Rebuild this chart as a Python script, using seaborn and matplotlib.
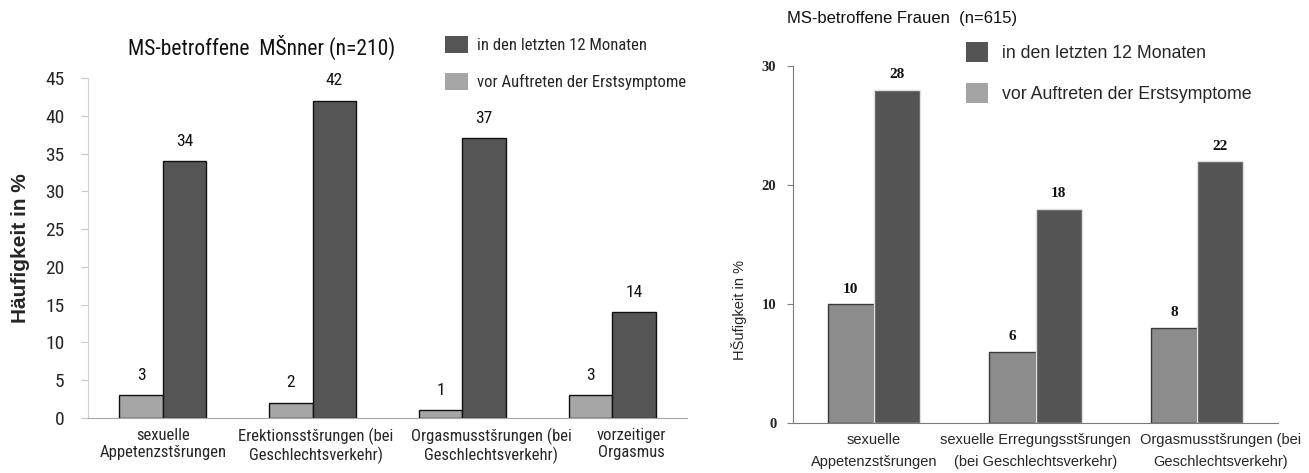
import matplotlib
matplotlib.use("Agg")
import matplotlib.pyplot as plt
import matplotlib.patches as mpatches
import matplotlib.transforms as mtransforms
from matplotlib import font_manager as fm
import seaborn as sns
import pandas as pd
import numpy as np

# ---------------- data ----------------
men_categories = ["sexuelle\nAppetenzstšrungen",
                  "Erektionsstšrungen (bei\nGeschlechtsverkehr)",
                  "Orgasmusstšrungen (bei\nGeschlechtsverkehr)",
                  "vorzeitiger\nOrgasmus"]
men_before = [3, 2, 1, 3]
men_last12 = [34, 42, 37, 14]

women_categories = ["sexuelle\nAppetenzstšrungen",
                    "sexuelle Erregungsstšrungen\n(bei Geschlechtsverkehr)",
                    "Orgasmusstšrungen (bei\nGeschlechtsverkehr)"]
women_before = [10, 6, 8]
women_last12 = [28, 18, 22]

series_last12 = "in den letzten 12 Monaten"
series_before = "vor Auftreten der Erstsymptome"

men_yticks = [0, 5, 10, 15, 20, 25, 30, 35, 40, 45]
women_yticks = [0, 10, 20, 30]

men_title = "MS-betroffene  MŠnner (n=210)"
women_title = "MS-betroffene Frauen  (n=615)"
men_ylabel = "Häufigkeit in %"
women_ylabel = "HŠufigkeit in %"

# ---------------- styling ----------------
sns.set_style("white")
SANS = ["Liberation Sans", "DejaVu Sans"]
SERIF = ["Liberation Serif", "DejaVu Serif"]
plt.rcParams["font.family"] = SANS

# pick a condensed sans face if one is installed
_fonts = fm.fontManager.ttflist
_names = {f.name for f in _fonts}
NARROW_PROPS = None
for cand in ["Liberation Sans Narrow", "Roboto Condensed", "Open Sans Condensed",
             "Noto Sans Condensed", "DejaVu Sans Condensed"]:
    if cand in _names:
        NARROW_PROPS = dict(family=[cand, "DejaVu Sans"], stretch="normal")
        break
if NARROW_PROPS is None:
    for nm in ["Roboto", "Noto Sans", "DejaVu Sans", "Open Sans"]:
        if any(f.name == nm and str(f.stretch) in ("condensed", "semi-condensed",
                                                     "extra-condensed")
               for f in _fonts):
            NARROW_PROPS = dict(family=[nm], stretch="condensed")
            break
NARROW_SCALE = 1.0
if NARROW_PROPS is None:
    NARROW_PROPS = dict(family=SANS, stretch="normal")
    NARROW_SCALE = 0.82

W, H = 1309, 473
fig = plt.figure(figsize=(W / 100, H / 100), dpi=100)

def frame(x0, x1, ytop, ybot):
    return [x0 / W, 1 - ybot / H, (x1 - x0) / W, (ybot - ytop) / H]

ax1 = fig.add_axes(frame(88, 687, 78, 418))
ax2 = fig.add_axes(frame(793, 1278, 66, 423))

def long_df(cats, before, last12):
    return pd.DataFrame({
        "cat": list(cats) * 2,
        "series": [series_before] * len(cats) + [series_last12] * len(cats),
        "value": list(before) + list(last12),
    })

def shift_labels(ax, offsets_px):
    for lbl, dx in zip(ax.get_xticklabels(), offsets_px):
        if dx:
            lbl.set_transform(lbl.get_transform() +
                              mtransforms.ScaledTranslation(dx / 100, 0,
                                                            fig.dpi_scale_trans))

# ---------- left: men ----------
men_light, men_dark = "#a6a6a6", "#555555"
df_m = long_df(men_categories, men_before, men_last12)
sns.barplot(data=df_m, x="cat", y="value", hue="series",
            hue_order=[series_before, series_last12],
            palette=[men_light, men_dark], width=0.58, legend=False,
            ax=ax1, saturation=1)
for c in ax1.containers:
    for p in c:
        p.set_edgecolor("#111111")
        p.set_linewidth(1.0)
    ax1.bar_label(c, fmt="%d", padding=9, fontsize=12.5 * NARROW_SCALE ** 0.5,
                  color="#111111", **NARROW_PROPS)

ax1.set_xlim(-0.5, len(men_categories) - 0.5)
ax1.set_ylim(0, 45)
ax1.set_yticks(men_yticks)
ax1.set_yticklabels([str(t) for t in men_yticks], fontsize=14 * NARROW_SCALE ** 0.5,
                    **NARROW_PROPS)
ax1.set_xticks(range(len(men_categories)))
ax1.set_xticklabels(men_categories, fontsize=12 * NARROW_SCALE,
                    linespacing=1.15, **NARROW_PROPS)
ax1.set_xticks(np.arange(-0.5, len(men_categories)), minor=True)
ax1.tick_params(axis="x", which="major", length=0, pad=7)
ax1.tick_params(axis="x", which="minor", length=4, color="#c0c0c0",
                direction="in")
ax1.tick_params(axis="y", length=5, color="#c8c8c8", pad=12, left=True)
ax1.set_xlabel("")
ax1.set_ylabel(men_ylabel, fontsize=15, fontweight="bold", family=SANS)
ax1.yaxis.set_label_coords(-0.097, 0.5)
for s in ["top", "right"]:
    ax1.spines[s].set_visible(False)
ax1.spines["left"].set_color("#d0d0d0")
ax1.spines["bottom"].set_color("#a8a8a8")
shift_labels(ax1, [0, 3, 29, 19])

fig.text(262 / W, 1 - 47 / H, men_title, ha="center", va="center",
         fontsize=15.5 * NARROW_SCALE ** 0.5, color="#111111", **NARROW_PROPS)
h1 = [mpatches.Patch(facecolor=men_dark, edgecolor="none"),
      mpatches.Patch(facecolor=men_light, edgecolor="none")]
leg_font = fm.FontProperties(family=NARROW_PROPS["family"],
                             stretch=NARROW_PROPS["stretch"],
                             size=12 * NARROW_SCALE)
_em = 12 * NARROW_SCALE * 1.389
fig.legend(h1, [series_last12, series_before], loc="upper left",
           bbox_to_anchor=(445 / W, 1 - 36 / H), frameon=False,
           prop=leg_font,
           handlelength=23 / _em, handleheight=20 / _em,
           labelspacing=20 / _em, handletextpad=9 / _em,
           borderpad=0, borderaxespad=0)

# ---------- right: women ----------
wom_light, wom_dark = "#8c8c8c", "#545454"
df_w = long_df(women_categories, women_before, women_last12)
sns.barplot(data=df_w, x="cat", y="value", hue="series",
            hue_order=[series_before, series_last12],
            palette=[wom_light, wom_dark], width=0.57, legend=False,
            ax=ax2, saturation=1)
edge_cols = ["#3a3a3a", "#e0e0e0"]
for c, ec in zip(ax2.containers, edge_cols):
    for p in c:
        p.set_edgecolor(ec)
        p.set_linewidth(1.0)
    ax2.bar_label(c, fmt="%d", padding=6, fontsize=11, fontweight="bold",
                  family=SERIF, color="#111111")

ax2.set_xlim(-0.5, len(women_categories) - 0.5)
ax2.set_ylim(0, 30)
ax2.set_yticks(women_yticks)
ax2.set_yticklabels([str(t) for t in women_yticks], family=SERIF,
                    fontsize=10.5, fontweight="bold")
ax2.set_xticks(range(len(women_categories)))
ax2.set_xticklabels(women_categories, family=SANS, fontsize=10.5,
                    linespacing=1.75)
ax2.set_xticks(np.arange(-0.5, len(women_categories)), minor=True)
ax2.tick_params(axis="x", which="major", length=0, pad=7)
ax2.tick_params(axis="x", which="minor", length=5, color="#808080",
                direction="out")
ax2.tick_params(axis="y", length=4, color="#808080", pad=8, left=True)
ax2.set_xlabel("")
ax2.set_ylabel(women_ylabel, fontsize=10.5, family=SANS)
ax2.yaxis.set_label_coords(-0.095, 0.317)
for s in ["top", "right"]:
    ax2.spines[s].set_visible(False)
ax2.spines["left"].set_color("#7a7a7a")
ax2.spines["bottom"].set_color("#7a7a7a")
shift_labels(ax2, [0, 0, 23])

fig.text(787 / W, 1 - 18 / H, women_title, ha="left", va="center",
         fontsize=12, family=SANS, color="#111111")
h2 = [mpatches.Patch(facecolor=wom_dark, edgecolor="none"),
      mpatches.Patch(facecolor="#a4a4a4", edgecolor="none")]
fig.legend(h2, [series_last12, series_before], loc="upper left",
           bbox_to_anchor=(966 / W, 1 - 42 / H), frameon=False,
           prop={"family": SANS, "size": 12.8},
           handlelength=1.25, handleheight=1.35, labelspacing=1.2,
           handletextpad=0.75, borderpad=0, borderaxespad=0)

fig.savefig("out.png", dpi=100)
